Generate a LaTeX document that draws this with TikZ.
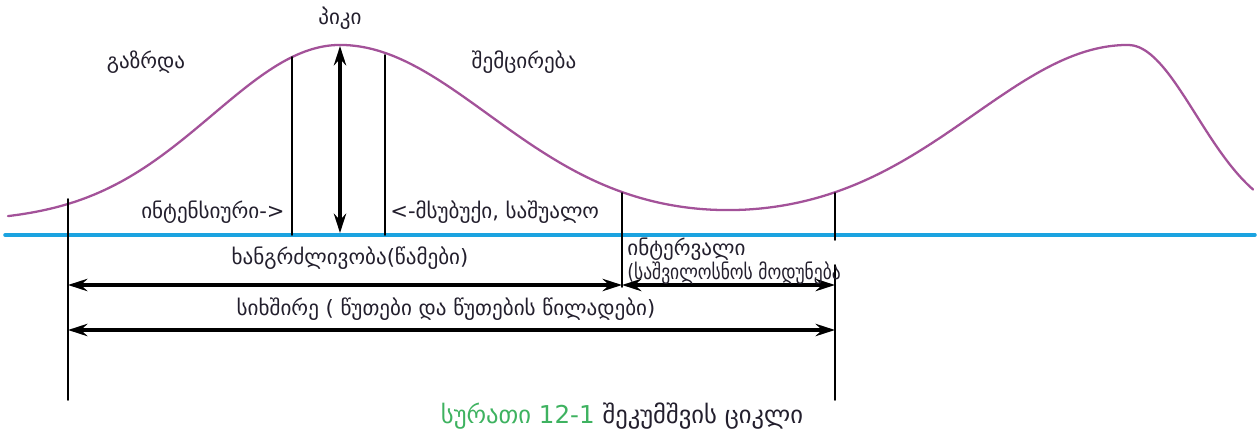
\documentclass[tikz,border=0pt]{standalone}
\usepackage{fontspec}
\setmainfont{DejaVu Sans}
\usetikzlibrary{arrows.meta}
\definecolor{wavec}{RGB}{163,82,153}
\definecolor{basec}{RGB}{27,163,224}
\definecolor{textc}{RGB}{35,31,45}
\definecolor{capc}{RGB}{62,178,96}
\tikzset{
  lbl/.style={font=\fontsize{12}{14}\selectfont, text=textc, inner sep=0pt},
  tick/.style={line width=1pt},
  span/.style={<->, line width=2pt},
}
\begin{document}
\begin{tikzpicture}[x=0.02cm,y=-0.02cm,line join=round,line cap=round,>={Stealth[length=11pt,width=7pt]}]
\useasboundingbox (0,0) rectangle (1258,436);
% wave and base line
\draw[wavec,line width=1.3pt,domain=8:1253,smooth,samples=220] plot (\x,{222-177*exp(-min(((\x-340)/ifthenelse(\x<340,180,210))^2,9))-177*exp(-min(((\x-1128)/ifthenelse(\x<1128,218,96))^2,9))});
\draw[basec,line width=2pt] (5,235) -- (1255,235);
% ticks
\coordinate (t0) at (68,199);   \coordinate (b0) at (68,400);
\coordinate (t1) at (292,57);   \coordinate (b1) at (292,235);
\coordinate (t2) at (385,55);   \coordinate (b2) at (385,235);
\coordinate (t3) at (622,193);  \coordinate (b3) at (622,287);
\coordinate (t4) at (835,193);  \coordinate (m4) at (835,240);
\coordinate (n4) at (835,265);  \coordinate (b4) at (835,400);
\draw[tick] (t0) -- (b0);
\draw[tick] (t1) -- (b1);
\draw[tick] (t2) -- (b2);
\draw[tick] (t3) -- (b3);
\draw[tick] (t4) -- (m4);
\draw[tick] (n4) -- (b4);
% peak
\coordinate (pk) at (340,46);
\coordinate (pb) at (340,233);
\draw[span] (pk) -- (pb);
% spans
\coordinate (d0) at (68,285);  \coordinate (d1) at (622,285);
\coordinate (i1) at (835,285);
\coordinate (f0) at (68,330);  \coordinate (f1) at (835,330);
\draw[span] (d0) -- (d1);
\draw[span] (d1) -- (i1);
\draw[span] (f0) -- (f1);
% labels
\node[lbl] (peaklbl) at (340,18) {პიკი};
\node[lbl] (uplbl) at (146,62) {გაზრდა};
\node[lbl] (downlbl) at (524,62) {შემცირება};
\node[lbl,anchor=east] (strong) at (285,212) {ინტენსიური->};
\node[lbl,anchor=west] (mild) at (390,212) {<-მსუბუქი, საშუალო};
\node[lbl] (dur) at (350,258) {ხანგრძლივობა(წამები)};
\node[lbl,anchor=west] (intv) at (627,249) {ინტერვალი};
\node[lbl,anchor=west] (relax) at (627,273) {\scalebox{0.83}[1]{(საშვილოსნოს მოდუნება}};
\node[lbl] (freq) at (446,309) {სიხშირე ( წუთები და წუთების წილადები)};
\node[lbl,font=\fontsize{14}{16}\selectfont] (cap) at (622,416) {\textcolor{capc}{სურათი 12-1} შეკუმშვის ციკლი};
\end{tikzpicture}
\end{document}
